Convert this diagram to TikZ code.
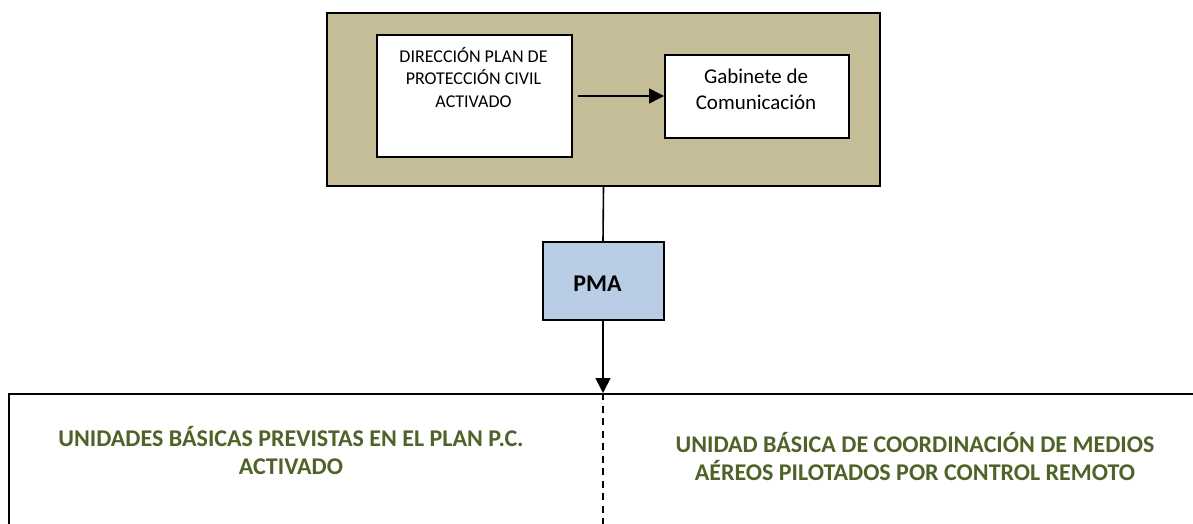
\documentclass[tikz,border=0pt]{standalone}
\usepackage{fontspec}
\setmainfont{Carlito}
\usetikzlibrary{arrows.meta}
\definecolor{tanfill}{HTML}{C4BD97}
\definecolor{pmafill}{HTML}{B9CDE5}
\definecolor{olivetext}{HTML}{4F6228}
\tikzset{
  boxline/.style={draw=black,line width=2pt},
  whitebox/.style={boxline,fill=white,rectangle,inner sep=0pt},
  conn/.style={line width=1.6pt,draw=black},
  tip/.style={-{Triangle[length=15pt,width=15pt]}},
  smalltext/.style={font=\fontsize{18}{22.5}\selectfont,align=center,inner sep=0pt},
  midtext/.style={font=\fontsize{21}{26}\selectfont,align=center,inner sep=0pt},
  greentext/.style={font=\fontsize{24}{27.5}\selectfont\bfseries,text=olivetext,align=center,inner sep=0pt},
}
\begin{document}
\begin{tikzpicture}[x=1pt,y=-1pt]
\useasboundingbox (0,0) rectangle (1193,523);
% outer frame
\node[boxline,fill=tanfill,rectangle,inner sep=0pt,minimum width=553pt,minimum height=173pt,anchor=north west] (frame) at (326,11.5) {};
% inner boxes
\node[whitebox,minimum width=195pt,minimum height=122pt,anchor=north west] (dir) at (376,34) {};
\node[smalltext,anchor=base] (dirtext) at (473.5,107) {DIRECCIÓN PLAN DE\\PROTECCIÓN CIVIL\\ACTIVADO};
\node[whitebox,minimum width=184pt,minimum height=83pt,anchor=north west] (gab) at (664,54) {};
\node[midtext,anchor=base] (gabtext) at (756,109) {Gabinete de\\Comunicación};
\draw[conn,tip,shorten <=5pt] (dir.east) -- (dir.east -| gab.west);
% PMA
\node[boxline,fill=pmafill,rectangle,inner sep=0pt,minimum width=121pt,minimum height=78pt,anchor=north west] (pma) at (541.5,241) {};
\node[font=\fontsize{24}{28}\selectfont\bfseries,inner sep=0pt,anchor=base] (pmatext) at (597.5,291) {PMA};
\draw[conn] (frame.south) -- (pma.north);
% bottom box (extends beyond the page)
\node[boxline,fill=white,rectangle,inner sep=0pt,minimum width=1210pt,minimum height=160pt,anchor=north west] (units) at (8,393) {};
\coordinate (divtop) at (pma.south |- units.north);
\coordinate (divbot) at (pma.south |- 0,530);
\draw[conn,tip] (pma.south) -- (divtop);
\draw[conn,dash pattern=on 7pt off 5.5pt] (divtop) -- (divbot);
\node[greentext,anchor=base] (lefttext) at (291,474) {UNIDADES BÁSICAS PREVISTAS EN EL PLAN P.C.\\ACTIVADO};
\node[greentext,anchor=base] (righttext) at (915,480) {UNIDAD BÁSICA DE COORDINACIÓN DE MEDIOS\\AÉREOS PILOTADOS POR CONTROL REMOTO};
\end{tikzpicture}
\end{document}
